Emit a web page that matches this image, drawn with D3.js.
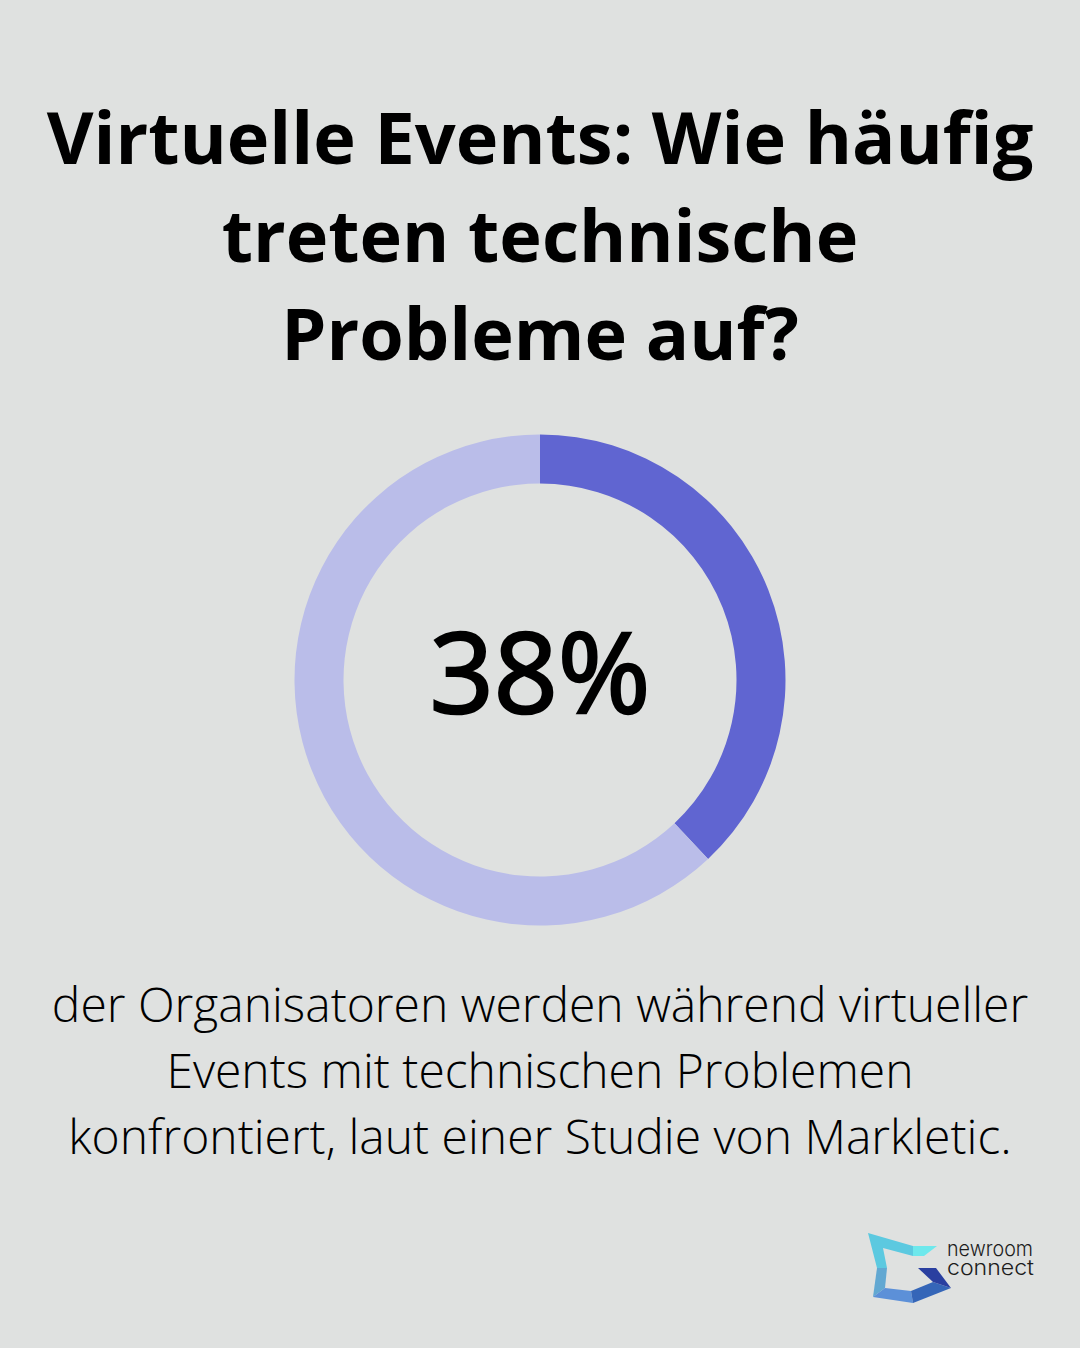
<!DOCTYPE html>
<html><head><meta charset="utf-8">
<script src="https://cdn.jsdelivr.net/npm/d3@7/dist/d3.min.js"></script>
<style>html,body{margin:0;padding:0;background:#dfe1e0}svg{display:block}</style>
</head><body><svg id="c" width="1080" height="1348"></svg>
<script>
const titleLines=["Virtuelle Events: Wie häufig","treten technische","Probleme auf?"];
const captionLines=["der Organisatoren werden während virtueller","Events mit technischen Problemen","konfrontiert, laut einer Studie von Markletic."];
const segments=[{label:"Ja",value:38},{label:"Rest",value:62}];
const segmentColors=["#6065d1","#babde9"];
const centerLabel="38%";
const logoLines=["newroom","connect"];
const svg=d3.select("#c");
svg.append("rect").attr("width",1080).attr("height",1348).attr("fill","#dfe1e0");
const font="'Open Sans',sans-serif";
svg.selectAll(".t").data(titleLines).join("text").attr("class","t")
 .attr("x",540).attr("y",(d,i)=>164+i*98).attr("text-anchor","middle")
 .attr("font-family",font).attr("font-weight",700).attr("font-size",72).attr("fill","#000").text(d=>d);
const g=svg.append("g").attr("transform","translate(540,680)");
const pie=d3.pie().sort(null).value(d=>d.value);
const arc=d3.arc().innerRadius(196.5).outerRadius(245.5);
g.selectAll("path").data(pie(segments)).join("path").attr("d",arc).attr("fill",(d,i)=>segmentColors[i]);
g.append("text").attr("y",33).attr("text-anchor","middle").attr("font-family",font).attr("font-weight",400).attr("font-size",112).attr("fill","#000").attr("stroke","#000").attr("stroke-width",2.6).text(centerLabel);
svg.selectAll(".c").data(captionLines).join("text").attr("class","c")
 .attr("x",540).attr("y",(d,i)=>1022+i*66).attr("text-anchor","middle")
 .attr("font-family",font).attr("font-weight",300).attr("font-size",48).attr("fill","#000").text(d=>d);
// logo facets, drawn on the picture's pixel grid
const facets=[
 {fill:"#5cc9e0",pts:[[868,1233],[913,1246],[913,1256],[883,1248],[887,1268],[877,1268]]},
 {fill:"#6ee8ec",pts:[[913,1246],[937,1246],[924,1256],[913,1256]]},
 {fill:"#62a8d2",pts:[[877,1268],[887,1268],[885,1288],[873,1297]]},
 {fill:"#5c90d8",pts:[[873,1297],[885,1288],[911,1291],[913,1303]]},
 {fill:"#3566b8",pts:[[913,1303],[911,1291],[933,1282],[951,1288]]},
 {fill:"#2a3fa0",pts:[[918,1268],[936,1268],[951,1288],[933,1282]]}];
svg.append("g").selectAll("path").data(facets).join("path")
 .attr("d",d=>d3.line()(d.pts)+"Z").attr("fill",d=>d.fill);
svg.selectAll(".l").data(logoLines).join("text").attr("class","l")
 .attr("x",947).attr("y",(d,i)=>1256+i*18.5).attr("font-family","Inter,sans-serif").attr("font-size",21).attr("font-weight",300).attr("fill","#1c1c1c")
 .attr("textLength",d=>d==="newroom"?86:87).attr("lengthAdjust","spacingAndGlyphs").text(d=>d);
</script></body></html>
